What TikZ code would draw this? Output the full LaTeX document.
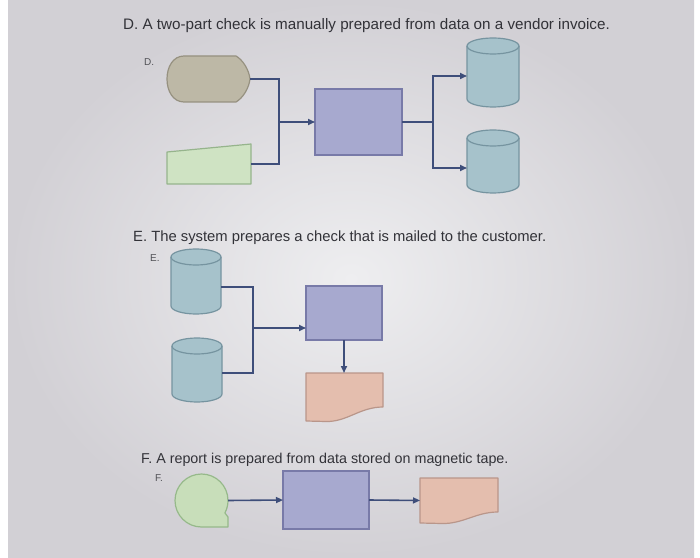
\documentclass[tikz,border=0pt]{standalone}
\usepackage{fontspec}
\setmainfont{Liberation Sans}
\usetikzlibrary{arrows.meta,calc}
\definecolor{bgedge}{RGB}{210,208,213}
\definecolor{bgmid}{RGB}{238,238,240}
\definecolor{txt}{RGB}{50,50,56}
\definecolor{lnc}{RGB}{62,78,122}
\definecolor{dispf}{RGB}{189,184,166}
\definecolor{dispd}{RGB}{150,145,128}
\definecolor{manf}{RGB}{207,227,195}
\definecolor{mand}{RGB}{150,180,140}
\definecolor{procf}{RGB}{167,169,207}
\definecolor{procd}{RGB}{120,122,168}
\definecolor{cylf}{RGB}{166,194,203}
\definecolor{cyld}{RGB}{118,148,160}
\definecolor{docf}{RGB}{228,190,174}
\definecolor{docd}{RGB}{185,150,138}
\definecolor{tapef}{RGB}{200,222,186}
\definecolor{taped}{RGB}{150,185,138}
\tikzset{
  ghost/.style={draw=none,inner sep=0pt,outer sep=0pt,rectangle},
  proc/.style={ghost,draw=procd,fill=procf,line width=1.2pt},
  conn/.style={draw=lnc,line width=1.6pt},
  tipc/.style={conn,-{Triangle[length=7pt,width=6pt]}},
  title/.style={anchor=west,inner sep=0pt,text=txt},
  tag/.style={anchor=west,inner sep=0pt,text=txt!85,font=\fontsize{10}{11}\selectfont},
  shp/.style={line width=1.2pt,line join=round}
}
\newcommand{\mycyl}[3]{% name, half width, ry
  \filldraw[shp,draw=cyld,fill=cylf]
    ($(#1.north west)+(0,-#3)$) -- ($(#1.south west)+(0,#3)$)
    arc[start angle=180,end angle=360,x radius=#2,y radius=#3]
    -- ($(#1.north east)+(0,-#3)$)
    arc[start angle=0,end angle=180,x radius=#2,y radius=#3] -- cycle;
  \draw[shp,draw=cyld] ($(#1.north west)+(0,-#3)$)
    arc[start angle=180,end angle=360,x radius=#2,y radius=#3];
}
\begin{document}
\begin{tikzpicture}[x=1pt,y=1pt]
\useasboundingbox (0,0) rectangle (700,557);
\fill[white] (0,0) rectangle (700,557);
\shade[inner color=bgmid,outer color=bgedge] (8,0) rectangle (694,557);

% ---------- D ----------
\node[title,font=\fontsize{15.2}{17}\selectfont] (tD) at (123,531) {D. A two-part check is manually prepared from data on a vendor invoice.};
\node[tag] (lD) at (144,495) {D.};
\node[ghost,minimum width=83pt,minimum height=46pt] (disp) at (208.5,478) {};
\filldraw[shp,draw=dispd,fill=dispf]
  (disp.west) .. controls (167,490) and (173,501) .. (184,501) -- (236,501)
  .. controls (243,497) and (249,487) .. (disp.east)
  .. controls (249,469) and (243,459) .. (236,455) -- (184,455)
  .. controls (173,455) and (167,466) .. cycle;
\node[ghost,minimum width=84pt,minimum height=40pt] (man) at (209,393) {};
\filldraw[shp,draw=mand,fill=manf] (167,373) -- (167,405) -- (251,413) -- (251,373) -- cycle;
\node[proc,minimum width=87pt,minimum height=66pt] (boxD) at (358.5,435) {};
\node[ghost,minimum width=52pt,minimum height=69pt] (cyl1) at (493,484.5) {};
\mycyl{cyl1}{26pt}{8pt}
\node[ghost,minimum width=52pt,minimum height=63pt] (cyl2) at (493,395.5) {};
\mycyl{cyl2}{26pt}{8pt}
\coordinate (jl) at (279,435);
\coordinate (jr) at (433,435);
\draw[conn] (disp.east) -| (jl);
\draw[conn] (man.east) -| (jl);
\draw[tipc] (jl) -- (boxD.west);
\draw[conn] (boxD.east) -- (jr);
\draw[tipc] (jr) |- ([yshift=-3.5pt]cyl1.west);
\draw[tipc] (jr) |- ([yshift=-6.5pt]cyl2.west);

% ---------- E ----------
\node[title,font=\fontsize{14.8}{17}\selectfont] (tE) at (133,319) {E. The system prepares a check that is mailed to the customer.};
\node[tag] (lE) at (150,299) {E.};
\node[ghost,minimum width=50pt,minimum height=65pt] (cylE1) at (196,275.5) {};
\mycyl{cylE1}{25pt}{8pt}
\node[ghost,minimum width=50pt,minimum height=64pt] (cylE2) at (197,187) {};
\mycyl{cylE2}{25pt}{8pt}
\node[proc,minimum width=76pt,minimum height=54pt] (boxE) at (344,244) {};
\node[ghost,minimum width=77pt,minimum height=48pt] (docE) at (344.5,160) {};
\filldraw[shp,draw=docd,fill=docf] (306,184) -- (383,184) -- (383,150)
  .. controls (360,150) and (347,135) .. (326,135.5) -- (306,136) -- cycle;
\coordinate (je) at (253,229);
\draw[conn] ([yshift=-5.5pt]cylE1.east) -| (je);
\draw[conn] ([yshift=-3pt]cylE2.east) -| (je);
\draw[tipc] (je) -- (je -| boxE.west);
\draw[tipc] (boxE.south) -- (boxE.south |- docE.north);

% ---------- F ----------
\node[title,font=\fontsize{14.3}{16}\selectfont] (tF) at (141,97) {F. A report is prepared from data stored on magnetic tape.};
\node[tag] (lF) at (155,79) {F.};
\node[ghost,circle,minimum size=53pt] (tape) at (201.5,56.5) {};
\filldraw[shp,draw=taped,fill=tapef] (201.5,30)
  arc[start angle=-90,end angle=-388,radius=26.5pt] -- (228,40) -- (228,30) -- cycle;
\node[proc,minimum width=86pt,minimum height=58pt] (boxF) at (326,57) {};
\node[ghost,minimum width=78pt,minimum height=45pt] (docF) at (459,56.5) {};
\filldraw[shp,draw=docd,fill=docf] (420,79) -- (498,79) -- (498,45)
  .. controls (476,45) and (463,33) .. (442,33.5) -- (420,34) -- cycle;
\draw[tipc] (tape.east) -- (boxF.west);
\draw[tipc] (boxF.east) -- (docF.west);
\end{tikzpicture}
\end{document}
